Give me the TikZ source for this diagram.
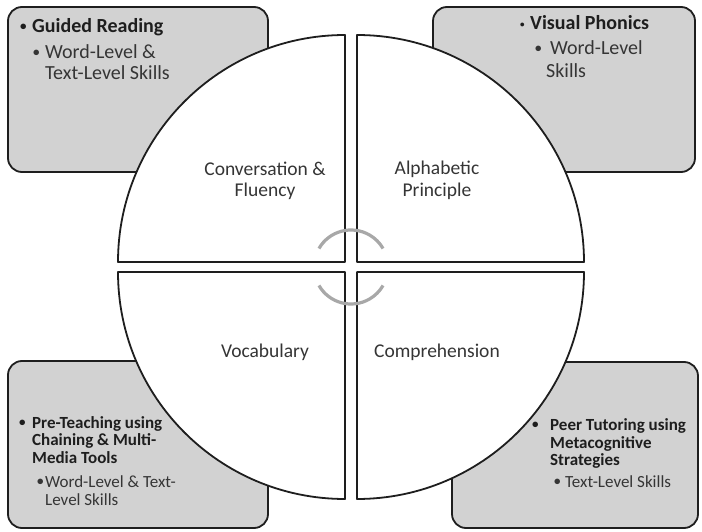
\documentclass[tikz,border=0pt]{standalone}
\usepackage{fontspec}
\setmainfont{Carlito}
\begin{document}
\definecolor{boxfill}{HTML}{D2D2D2}
\definecolor{edge}{HTML}{1E1E1E}
\definecolor{ink}{HTML}{353535}
\definecolor{inkbold}{HTML}{1E1E1E}
\definecolor{cyclegray}{HTML}{A8A8A8}
\begin{tikzpicture}[x=1pt,y=1pt,
  panel/.style={draw=edge,line width=1.8pt,fill=boxfill,rounded corners=14pt},
  quarter/.style={draw=edge,line width=1.8pt,fill=white,line join=round},
  cyclearc/.style={draw=cyclegray,line width=3.2pt},
  label/.style={inner sep=0pt,anchor=base,text=ink,font=\fontsize{19.5}{22}\selectfont},
  bigline/.style={inner sep=0pt,anchor=base west,text=ink,font=\fontsize{20}{22}\selectfont},
  bighead/.style={bigline,text=inkbold,font=\fontsize{20}{22}\selectfont\bfseries},
  smallline/.style={inner sep=0pt,anchor=base west,text=ink,font=\fontsize{17}{19}\selectfont},
  smallhead/.style={smallline,text=inkbold,font=\fontsize{17}{19}\selectfont\bfseries},
  dot/.style={inner sep=0pt,anchor=base west,text=inkbold,font=\fontsize{13}{13}\selectfont\bfseries},
  tinydot/.style={dot,font=\fontsize{9}{9}\selectfont\bfseries}]
\useasboundingbox (0,0) rectangle (702,531);
\fill[white] (0,0) rectangle (702,531);

% corner panels
\path[panel] (8,359) rectangle (268,524);
\path[panel] (433,359) rectangle (695,524);
\path[panel] (8,3) rectangle (268,170);
\path[panel] (452,3) rectangle (698,169);

% four quarters of the circle
\path[quarter] (345,269) -- ++(-227,0) arc[start angle=180,end angle=90,radius=227] -- cycle;
\path[quarter] (357,269) -- ++(0,227) arc[start angle=90,end angle=0,radius=227] -- cycle;
\path[quarter] (345,259) -- ++(-227,0) arc[start angle=180,end angle=270,radius=227] -- cycle;
\path[quarter] (357,259) -- ++(227,0) arc[start angle=0,end angle=-90,radius=227] -- cycle;

% cycle arcs in the middle
\coordinate (hub) at (351,264);
\path[cyclearc] (hub) ++(150:37) arc[start angle=150,end angle=30,radius=37];
\path[cyclearc] (hub) ++(210:37) arc[start angle=210,end angle=330,radius=37];

% quarter labels
\node[label] (conv) at (265,355) {Conversation \&};
\node[label] (flu) at (265,334) {Fluency};
\node[label] (alph) at (437,356) {Alphabetic};
\node[label] (prin) at (437,334) {Principle};
\node[label] (voc) at (265,174) {Vocabulary};
\node[label] (comp) at (437,174) {Comprehension};

% top-left panel
\node[dot] (b1) at (20,500) {•};
\node[bighead] (gr) at (32,498) {Guided Reading};
\node[dot,text=ink] (b2) at (33,474) {•};
\node[bigline] (gr1) at (45,472) {Word-Level \&};
\node[bigline] (gr2) at (45,451) {Text-Level Skills};

% top-right panel
\node[tinydot] (b3) at (520,503) {•};
\node[bighead] (vp) at (530,501) {Visual Phonics};
\node[dot,text=ink] (b4) at (535,478) {•};
\node[bigline] (vp1) at (550,476) {Word-Level};
\node[bigline] (vp2) at (546,453) {Skills};

% bottom-left panel
\node[dot] (b5) at (19,105) {•};
\node[smallhead] (pt) at (32,103) {Pre-Teaching using};
\node[smallhead] (pt1) at (32,86) {Chaining \& Multi-};
\node[smallhead] (pt2) at (32,68) {Media Tools};
\node[dot,text=ink] (b6) at (37,46) {•};
\node[smallline] (pt3) at (45,44) {Word-Level \& Text-};
\node[smallline] (pt4) at (45,26) {Level Skills};

% bottom-right panel
\node[dot] (b7) at (532,103) {•};
\node[smallhead] (ptu) at (550,101) {Peer Tutoring using};
\node[smallhead] (ptu1) at (550,83) {Metacognitive};
\node[smallhead] (ptu2) at (550,66) {Strategies};
\node[dot,text=ink] (b8) at (554,46) {•};
\node[smallline] (ptu3) at (565,44) {Text-Level Skills};
\end{tikzpicture}
\end{document}
